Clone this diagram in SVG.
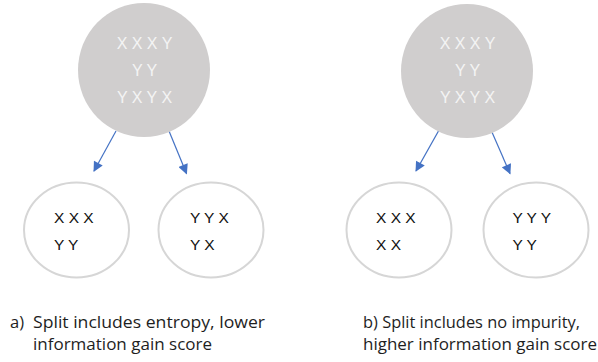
<svg xmlns="http://www.w3.org/2000/svg" width="598" height="362" viewBox="0 0 598 362">
  <style>
    .root { fill: #d0cece; }
    .leaf { fill: #ffffff; stroke: #d6d6d6; stroke-width: 2; }
    .rtxt { font-family: "Liberation Sans", Arial, sans-serif; font-size: 16px; fill: #f4f4f4; text-anchor: middle; }
    .ltxt { font-family: "Liberation Sans", Arial, sans-serif; font-size: 15.5px; fill: #111111; }
    .cap { font-family: "Open Sans", "Liberation Sans", sans-serif; font-size: 16.5px; fill: #1e1e1e; }
    .edge { stroke: #4472c4; stroke-width: 1.2; fill: none; marker-end: url(#arrow); }
  </style>
  <defs>
    <marker id="arrow" viewBox="0 0 10 10" refX="9" refY="5" markerWidth="11" markerHeight="10" markerUnits="userSpaceOnUse" orient="auto">
      <path d="M0,0 L10,5 L0,10 z" fill="#4472c4"/>
    </marker>
  </defs>
  <rect width="598" height="362" fill="#ffffff"/>

  <!-- connectors -->
  <g id="connectors">
    <line class="edge" x1="116" y1="131" x2="94" y2="171"/>
    <line class="edge" x1="169" y1="131" x2="186.5" y2="173.5"/>
    <line class="edge" x1="438.5" y1="131" x2="416" y2="171"/>
    <line class="edge" x1="491.5" y1="131" x2="510" y2="173.5"/>
  </g>

  <!-- split a) -->
  <g id="a-root">
    <ellipse class="root" cx="144" cy="70" rx="66" ry="67"/>
    <text class="rtxt" x="144.5" y="49">X X X Y</text>
    <text class="rtxt" x="144.5" y="76">Y Y</text>
    <text class="rtxt" x="144.5" y="103">Y X Y X</text>
  </g>
  <g id="a-left">
    <ellipse class="leaf" cx="76.5" cy="230" rx="52.5" ry="47.5"/>
    <text class="ltxt" x="54" y="222.5">X X X</text>
    <text class="ltxt" x="54" y="250">Y Y</text>
  </g>
  <g id="a-right">
    <ellipse class="leaf" cx="211" cy="230" rx="52.5" ry="47.5"/>
    <text class="ltxt" x="190" y="222.5">Y Y X</text>
    <text class="ltxt" x="190" y="250">Y X</text>
  </g>

  <!-- split b) -->
  <g id="b-root">
    <ellipse class="root" cx="467" cy="71" rx="66" ry="67"/>
    <text class="rtxt" x="467.5" y="49">X X X Y</text>
    <text class="rtxt" x="467.5" y="76">Y Y</text>
    <text class="rtxt" x="467.5" y="103">Y X Y X</text>
  </g>
  <g id="b-left">
    <ellipse class="leaf" cx="399" cy="230" rx="52.5" ry="47.5"/>
    <text class="ltxt" x="376" y="222.5">X X X</text>
    <text class="ltxt" x="376" y="250">X X</text>
  </g>
  <g id="b-right">
    <ellipse class="leaf" cx="536" cy="230" rx="52.5" ry="47.5"/>
    <text class="ltxt" x="512.5" y="222.5">Y Y Y</text>
    <text class="ltxt" x="512.5" y="250">Y Y</text>
  </g>

  <!-- captions -->
  <g id="captions">
    <text class="cap" x="10" y="328">a)</text>
    <text class="cap" x="33" y="328" textLength="232" lengthAdjust="spacingAndGlyphs">Split includes entropy, lower</text>
    <text class="cap" x="33" y="350" textLength="179" lengthAdjust="spacingAndGlyphs">information gain score</text>
    <text class="cap" x="363" y="328" textLength="217" lengthAdjust="spacingAndGlyphs">b) Split includes no impurity,</text>
    <text class="cap" x="363" y="350" textLength="234" lengthAdjust="spacingAndGlyphs">higher information gain score</text>
  </g>
</svg>
